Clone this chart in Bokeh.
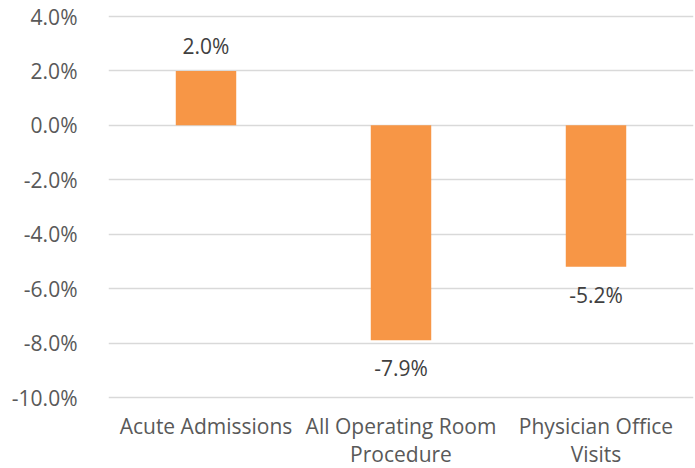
from bokeh.plotting import figure
from bokeh.models import ColumnDataSource, LabelSet, Range1d, FactorRange, NumeralTickFormatter, FixedTicker
from bokeh.core.properties import value
from bokeh.embed import file_html
from bokeh.resources import INLINE

categories = ["Acute Admissions", "All Operating Room\nProcedure", "Physician Office\nVisits"]
values = [0.020, -0.079, -0.052]
labels = ["2.0%", "-7.9%", "-5.2%"]
y_ticks = [-0.10, -0.08, -0.06, -0.04, -0.02, 0.0, 0.02, 0.04]
y_axis_min, y_axis_max = -0.10, 0.04

FONT = "Open Sans"
FS = "21px"

W, H = 695, 468
TOP_PAD, BOTTOM_PAD = 16, 71          # pixels above 4% and below -10% (room for category labels)
plot_px = H - TOP_PAD - BOTTOM_PAD
per_px = (y_axis_max - y_axis_min) / plot_px
y_lo = y_axis_min - BOTTOM_PAD * per_px
y_hi = y_axis_max + TOP_PAD * per_px

src = ColumnDataSource(dict(cat=categories, val=values))
pos_src = ColumnDataSource(dict(
    cat=[c for c, v in zip(categories, values) if v >= 0],
    val=[v for v in values if v >= 0],
    lab=[l for l, v in zip(labels, values) if v >= 0],
))
neg_src = ColumnDataSource(dict(
    cat=[c for c, v in zip(categories, values) if v < 0],
    val=[v for v in values if v < 0],
    lab=[l for l, v in zip(labels, values) if v < 0],
))
cat_src = ColumnDataSource(dict(cat=categories, base=[y_axis_min] * len(categories)))

p = figure(width=W, height=H, x_range=FactorRange(*categories, range_padding=0),
           y_range=Range1d(y_lo, y_hi), output_backend="svg", toolbar_location=None,
           min_border_left=108, min_border_right=2, min_border_top=0, min_border_bottom=0)
p.outline_line_color = None
p.background_fill_color = "white"

p.vbar(x="cat", top="val", bottom=0, width=0.31, source=src,
       fill_color="#F79646", line_color=None)

p.add_layout(LabelSet(x="cat", y="val", text="lab", source=pos_src, y_offset=17,
                      text_align="center", text_baseline="alphabetic",
                      text_font=value(FONT), text_font_size=FS, text_color="#404040"))
p.add_layout(LabelSet(x="cat", y="val", text="lab", source=neg_src, y_offset=-36,
                      text_align="center", text_baseline="alphabetic",
                      text_font=value(FONT), text_font_size=FS, text_color="#404040"))

# category labels under the -10% line
p.text(x="cat", y="base", text="cat", source=cat_src, y_offset=14,
       text_align="center", text_baseline="top", text_line_height=1.0,
       text_font=value(FONT), text_font_size=FS, text_color="#595959")

p.xaxis.visible = False
p.yaxis.ticker = FixedTicker(ticks=y_ticks)
p.yaxis.formatter = NumeralTickFormatter(format="0.0%")
p.yaxis.axis_line_color = None
p.yaxis.major_tick_line_color = None
p.yaxis.minor_tick_line_color = None
p.yaxis.major_label_text_font = FONT
p.yaxis.major_label_text_font_size = FS
p.yaxis.major_label_text_color = "#595959"
p.yaxis.major_label_standoff = 25
p.xgrid.grid_line_color = None
p.ygrid.grid_line_color = "#D9D9D9"
p.ygrid.grid_line_width = 1.5
p.ygrid.ticker = FixedTicker(ticks=y_ticks)

open("out.html", "w").write(file_html(p, INLINE))
